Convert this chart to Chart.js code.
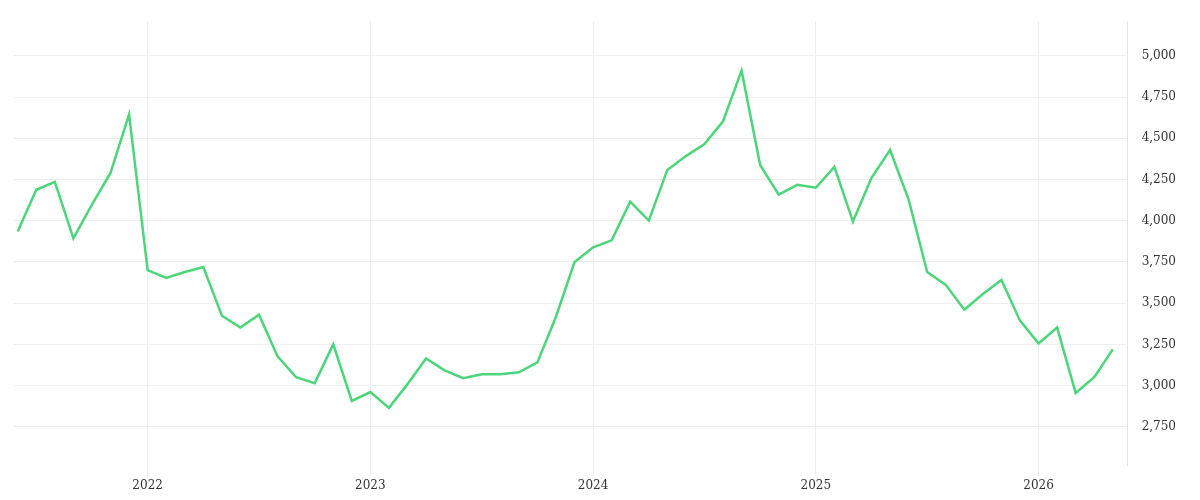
<!DOCTYPE html>
<html lang="en">
<head>
    <meta charset="UTF-8">
    <title>Chart</title>
    <script src="https://cdn.jsdelivr.net/npm/chart.js"></script>
    <style>
        body { margin: 0; background: #fff; }
        #wrap { width: 1200px; height: 500px; }
    </style>
</head>
<body>
    <div id="wrap"><canvas id="lineChart"></canvas></div>

    <script>
        // months counted from Jan 2022 (first point = Jun 2021)
        const startMonth = -7;
        const values = [
            3935, 4188, 4236, 3893, 4098, 4290, 4645,
            3700, 3653, 3689, 3719, 3424, 3352, 3430, 3177, 3051, 3015, 3250, 2907,
            2961, 2865, 3009, 3165, 3093, 3045, 3069, 3069, 3081, 3141, 3418, 3749,
            3839, 3881, 4116, 4001, 4308, 4392, 4465, 4603, 4910, 4338, 4158, 4218,
            4200, 4326, 3995, 4260, 4429, 4128, 3689, 3611, 3460, 3556, 3641, 3394,
            3256, 3352, 2955, 3051, 3220
        ];
        const yearTicks = [0, 12, 24, 36, 48];
        const valueTicks = [2750, 3000, 3250, 3500, 3750, 4000, 4250, 4500, 4750, 5000];

        const points = values.map((v, i) => ({ x: startMonth + i, y: v }));
        const tickFont = { family: "'DejaVu Serif', serif", size: 12 };

        new Chart(document.getElementById('lineChart'), {
            type: 'line',
            data: {
                datasets: [{
                    data: points,
                    borderColor: '#4cd57a',
                    borderWidth: 2.5,
                    pointRadius: 0,
                    tension: 0
                }]
            },
            options: {
                responsive: true,
                maintainAspectRatio: false,
                animation: false,
                layout: { padding: { left: 14, top: 12, right: 10, bottom: 4 } },
                plugins: { legend: { display: false }, tooltip: { enabled: false } },
                scales: {
                    x: {
                        type: 'linear',
                        min: -7.2,
                        max: 52.8,
                        afterBuildTicks: axis => { axis.ticks = yearTicks.map(v => ({ value: v })); },
                        ticks: {
                            callback: v => String(2022 + v / 12),
                            color: '#333',
                            font: tickFont,
                            maxRotation: 0
                        },
                        grid: { color: '#eeeeee', tickLength: 10 },
                        border: { display: false }
                    },
                    y: {
                        position: 'right',
                        min: 2515,
                        max: 5210,
                        afterBuildTicks: axis => { axis.ticks = valueTicks.map(v => ({ value: v })); },
                        ticks: { color: '#333', font: tickFont, padding: 14 },
                        grid: { color: '#eeeeee', drawTicks: false },
                        border: { display: true, color: '#e6e6e6' }
                    }
                }
            }
        });
    </script>
</body>
</html>
